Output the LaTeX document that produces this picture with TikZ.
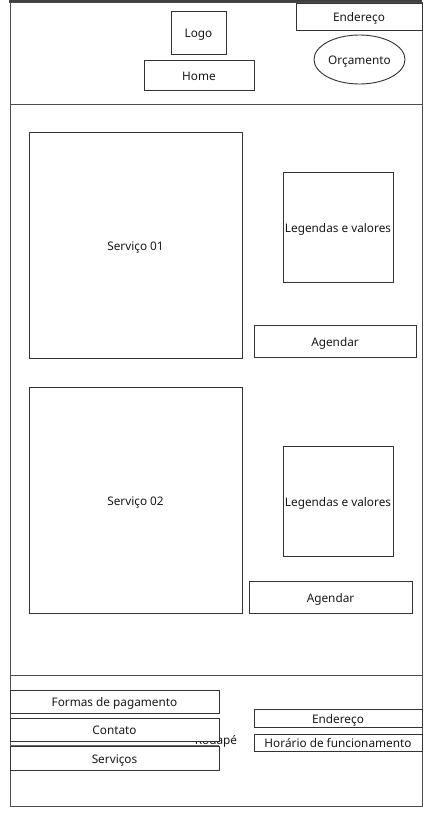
\documentclass[tikz,border=0pt]{standalone}
\usepackage{fontspec}
\setmainfont{Noto Sans}
\usetikzlibrary{shapes.geometric}
\begin{document}
\begin{tikzpicture}[x=1pt,y=-1pt,
  box/.style={draw=black!80,line width=0.9pt,fill=white,inner sep=0pt,
    font=\fontsize{11.8}{13}\selectfont,text=black!90,text height=11pt,text depth=0.6pt},
  frame/.style={draw=black!70,line width=1pt},
  lbl/.style={font=\fontsize{11.8}{13}\selectfont,text=black!90,inner sep=0pt,text height=11pt,text depth=0.6pt}]
\useasboundingbox (0,0) rectangle (430,813);
% outer frames
\fill[black!75] (9,0) rectangle (422,3);
\draw[frame] (10,3) rectangle (422,105);
\draw[frame] (10,105) rectangle (422,675);
\draw[frame] (10,675) rectangle (422,806);
% header
\node[box,minimum width=55pt,minimum height=43pt] (logo) at (198.5,32.5) {Logo};
\node[box,minimum width=110pt,minimum height=30pt] (home) at (199,75) {Home};
\node[box,minimum width=126pt,minimum height=27pt] (end1) at (359,16.5) {Endereço};
\node[box,ellipse,minimum width=91pt,minimum height=49pt] (orc) at (359.5,59.5) {Orçamento};
% body
\node[box,minimum width=213pt,minimum height=226pt] (s1) at (135.5,245) {Serviço 01};
\node[box,minimum width=110pt,minimum height=110pt] (l1) at (338,227) {Legendas e valores};
\node[box,minimum width=162pt,minimum height=32pt] (a1) at (335,341) {Agendar};
\node[box,minimum width=213pt,minimum height=226pt] (s2) at (135.5,500) {Serviço 02};
\node[box,minimum width=110pt,minimum height=110pt] (l2) at (338,501) {Legendas e valores};
\node[box,minimum width=163pt,minimum height=32pt] (a2) at (330.5,597) {Agendar};
% footer
\node[box,minimum width=209pt,minimum height=23pt] (fp) at (114.5,701.5) {Formas de pagamento};
\node[box,minimum width=209pt,minimum height=24pt] (sv) at (114.5,758.5) {Serviços};
\draw[draw=black!60,line width=0.7pt] (10,745.5) -- (219,745.5);
\node[lbl] (rod) at (216,739) {Rodapé};
\node[box,minimum width=209pt,minimum height=23pt] (ct) at (114.5,729.5) {Contato};
\node[box,minimum width=168pt,minimum height=18pt] (end2) at (338,718) {Endereço};
\node[box,minimum width=168pt,minimum height=17pt] (hor) at (338,742.5) {Horário de funcionamento};
\end{tikzpicture}
\end{document}
